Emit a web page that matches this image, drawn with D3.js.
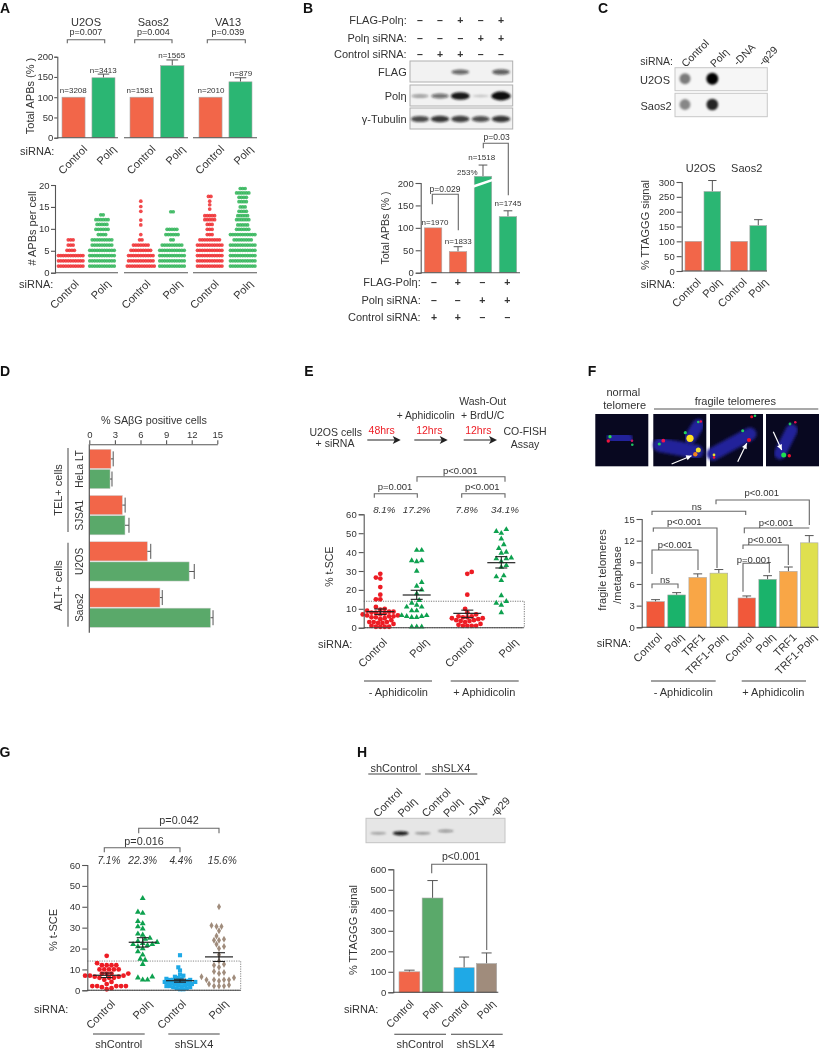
<!DOCTYPE html>
<html>
<head>
<meta charset="utf-8">
<script src="https://cdn.jsdelivr.net/npm/d3@7"></script>
<style>
  html, body { margin: 0; padding: 0; background: #fff; }
  svg { display: block; filter: blur(0.3px); }
  text { font-family: "Liberation Sans", Arimo, Helvetica, sans-serif; fill: #333; }
  .axis path, .axis line { stroke: #555; stroke-width: 1.1; }
  .axis text { font-size: 9.5px; fill: #333; }
</style>
</head>
<body>
<svg id="fig" width="819" height="1050"></svg>
<script>
// colours
const ORANGE = '#f26649', GREEN = '#2bb673', SAGE = '#5aa96a', RED = '#ed1c24', DKGREEN = '#0ea14f';
const BLUE = '#1fa9e6', BROWN = '#a08c7c', FAMBER = '#f9a646', FYELLOW = '#dfe04f', FGREEN = '#1ab36b', FRED = '#f1583a';

const POL = 'Polη';

// A - total APBs
const aCells = ['U2OS', 'Saos2', 'VA13'];
const aPvals = ['p=0.007', 'p=0.004', 'p=0.039'];
const aValues = [[100, 148], [100, 178], [100, 138]];
const aErrors = [[null, 157], [null, 192], [null, 148]];
const aCounts = [['n=3208', 'n=3413'], ['n=1581', 'n=1565'], ['n=2010', 'n=879']];
const aTicks = [0, 50, 100, 150, 200];

// A - APBs per cell, [value, number of cells drawn]
const aDotsU2osCtl = [[1.5, 11], [2.7, 11], [3.9, 11], [5.1, 4], [6.3, 3], [7.5, 3]];
const aDotsU2osPol = [[1.5, 11], [2.7, 11], [3.9, 11], [5.1, 11], [6.3, 9], [7.5, 9], [8.7, 4], [9.9, 6], [11, 5], [12.1, 6], [13.2, 2]];
const aDotsSaosCtl = [[1.5, 12], [2.7, 11], [3.9, 11], [5.1, 9], [6.3, 7], [7.5, 2], [8.7, 1], [10.9, 1], [12, 1], [14, 1], [15.1, 1], [16.3, 1]];
const aDotsSaosPol = [[1.5, 11], [2.7, 11], [3.9, 11], [5.1, 11], [6.3, 9], [7.5, 2], [8.7, 6], [9.9, 5], [13.9, 2]];
const aDotsVaCtl = [[1.5, 11], [2.7, 11], [3.9, 11], [5.1, 11], [6.3, 11], [7.5, 9], [8.7, 3], [9.9, 3], [11, 3], [12.1, 5], [13, 5], [14.5, 1], [15.5, 1], [16.3, 1], [17.4, 2]];
const aDotsVaPol = [[1.5, 11], [2.7, 11], [3.9, 11], [5.1, 11], [6.3, 11], [7.5, 8], [8.7, 11], [9.9, 6], [10.9, 5], [12.1, 6], [13, 5], [14, 4], [15, 3], [16.2, 4], [17.2, 4], [18.2, 6], [19.2, 3]];
const aDotTicks = [0, 5, 10, 15, 20];

// B - blot lane intensities and bars
const bFlagRow = ['–', '–', '+', '–', '+'];
const bPolRow = ['–', '–', '–', '+', '+'];
const bCtlRow = ['–', '+', '+', '–', '–'];
const bBlotFlag = [0, 0, 0.6, 0, 0.65];
const bBlotPol = [0.35, 0.55, 1, 0.12, 1.2];
const bBlotTub = [0.75, 0.85, 0.8, 0.72, 0.85];
const bValues = [100, 47, 253, 125];
const bCounts = ['n=1970', 'n=1833', 'n=1518', 'n=1745'];
const bFlagRow2 = ['–', '+', '–', '+'];
const bPolRow2 = ['–', '–', '+', '+'];
const bCtlRow2 = ['+', '+', '–', '–'];

// C - dot blot and TTAGGG signal
const cLanes = ['Control', POL, '-DNA', '-φ29'];
const cDotU2os = [0.5, 1, 0, 0];
const cDotSaos = [0.45, 0.85, 0, 0];
const cValues = [[100, 268], [100, 153]];
const cErrors = [[null, 305], [null, 173]];
const cTicks = [0, 50, 100, 150, 200, 250, 300];

// D - senescence
const dCells = ['HeLa LT', 'SJSA1', 'U2OS', 'Saos2'];
const dValues = [[2.54, 2.43], [3.87, 4.18], [6.8, 11.7], [8.28, 14.2]];
const dErrors = [[2.8, 2.66], [4.2, 4.65], [7.2, 12.3], [8.55, 14.5]];
const dTicks = [0, 3, 6, 9, 12, 15];

// E - t-SCE
const ePct = ['8.1%', '17.2%', '7.8%', '34.1%'];
const eCtl1 = [28.5, 26.5, 26, 21.5, 17.5, 15, 15, 11, 10, 9.5, 9, 8.5, 8.5, 8, 8, 7.5, 7, 7, 6.5, 6.5, 6, 6, 5.5, 5.5, 5, 4.5, 4, 3, 3, 3, 2.5, 2.5, 2, 1, 0.5, 0.5, 0.5, 0.5];
const ePol1 = [41, 41, 35.5, 35.5, 35, 30, 24, 22, 20, 18, 14.5, 13, 12, 11, 11, 9, 9, 6.5, 6.5, 6, 6, 5.5, 5.5, 0.5, 0.5, 0.5];
const eCtl2 = [29.5, 28.5, 17.5, 10, 8, 7, 6, 6, 5.5, 5.5, 5, 5, 4.5, 4, 4, 3.5, 3.5, 3, 2, 1.5, 1, 1, 1, 1];
const ePol2 = [52, 51, 50, 47, 44, 42, 40, 39.5, 37, 36.5, 36.5, 35, 33, 32, 27.5, 27, 25, 17, 14, 13, 12, 8];
const eMeans = [[8.5, 7, 9.9], [17.3, 15, 19.8], [7.6, 5.3, 9.3], [34.4, 31.6, 37.6]];
const sceTicks = [0, 10, 20, 30, 40, 50, 60];

// F - fragile telomeres
const fCats = ['Control', POL, 'TRF1', 'TRF1-' + POL];
const fValues = [[3.55, 4.48, 6.9, 7.5], [4.06, 6.65, 7.75, 11.7]];
const fErrors = [[3.83, 4.8, 7.4, 8], [4.34, 7.15, 8.35, 12.7]];
const fTicks = [0, 3, 6, 9, 12, 15];

// G - t-SCE with SLX4
const gPct = ['7.1%', '22.3%', '4.4%', '15.6%'];
const gCtl = [16.5, 13, 12, 12, 12, 12, 10, 10, 10, 10, 10, 8, 8, 8, 8, 7, 7, 7, 6.5, 6.5, 6, 6, 6, 5, 4, 3, 2, 2, 2, 2, 2, 1.5, 1, 0.5];
const gPol = [44, 37.5, 37, 33, 32, 30.5, 29.5, 27, 26.5, 25, 24.5, 23.5, 23, 22.5, 22, 22, 21.5, 21, 20, 18.5, 17, 15, 14.5, 12.5, 6.5, 6, 5, 5];
const gSlxCtl = [16.8, 11, 9.5, 7.5, 7, 6.5, 6, 5.5, 5.5, 5, 5, 5, 4.5, 4.5, 4, 4, 4, 4, 3.5, 3.5, 3, 3, 3, 2.5, 2.5, 2, 2, 2, 1.5, 1.5, 1, 1, 0.5, 0.5];
const gSlxPol = [40, 31, 30.5, 30.5, 28.5, 26, 24.5, 24, 24, 22, 21, 20, 17, 14, 12.5, 12, 11, 9, 8.5, 8, 6.5, 6, 5, 5, 5, 5, 4.5, 3, 2.5, 2, 2, 2];
const gMeans = [[7.2, 6.1, 8.3], [23, 20.7, 25.2], [4.6, 3.9, 5.3], [16, 13.8, 18]];

// H - TTAGGG signal with SLX4
const hLanes = ['Control', POL, 'Control', POL, '-DNA', '-φ29'];
const hBlot = [0.3, 0.95, 0.35, 0.4, 0, 0];
const hValues = [[100, 460], [120, 140]];
const hErrors = [[108, 545], [172, 192]];
const hTicks = [0, 100, 200, 300, 400, 500, 600];

const svg = d3.select('#fig');
const defs = svg.append('defs');
[['blur1', 0.9], ['blur2', 1.4]].forEach(([id, s]) => {
  defs.append('filter').attr('id', id).attr('x', '-50%').attr('y', '-80%').attr('width', '200%').attr('height', '260%')
    .append('feGaussianBlur').attr('stdDeviation', s);
});

function txt(x, y, s, size = 11, opt = {}) {
  const t = svg.append('text')
    .attr('x', opt.rot ? 0 : x).attr('y', opt.rot ? 0 : y)
    .attr('dominant-baseline', 'central')
    .attr('text-anchor', opt.anchor || 'middle')
    .style('font-size', size + 'px')
    .text(s);
  if (opt.rot) t.attr('transform', `translate(${x},${y}) rotate(${opt.rot})`);
  if (opt.italic) t.style('font-style', 'italic');
  if (opt.bold) t.style('font-weight', 'bold').style('fill', '#111');
  if (opt.fill) t.style('fill', opt.fill);
  return t;
}

// rotated x label, anchored at its upper right end
function slant(x, y, s, size = 11) { txt(x, y, s, size, { anchor: 'end', rot: -45 }); }
// rotated lane label, anchored at its lower left end
function slantUp(x, y, s, size = 11) { txt(x, y, s, size, { anchor: 'start', rot: -45 }); }

function bracket(x1, x2, y, d1, d2, label, tx, ty, size = 9.5) {
  svg.append('path')
    .attr('d', d3.line()([[x1, y + d1], [x1, y], [x2, y], [x2, y + d2]]))
    .attr('fill', 'none').attr('stroke', '#666').attr('stroke-width', 1.1);
  if (label) txt(tx, ty, label, size);
}

function hline(x1, x2, y, color = '#555', w = 1.1) {
  svg.append('line').attr('x1', x1).attr('x2', x2).attr('y1', y).attr('y2', y).attr('stroke', color).attr('stroke-width', w);
}

function yAxis(x, scale, ticks, tick = 5, pad = 2) {
  return svg.append('g').attr('class', 'axis').attr('transform', `translate(${x},0)`)
    .call(d3.axisLeft(scale).tickValues(ticks).tickSizeOuter(0).tickSize(tick).tickPadding(pad));
}

function bars(xs, y, values, errors, colors) {
  values.forEach((v, i) => {
    const x = xs(i), w = xs.bandwidth(), c = x + w / 2;
    if (errors[i] != null) {
      svg.append('line').attr('x1', c).attr('x2', c).attr('y1', y(v)).attr('y2', y(errors[i])).attr('stroke', '#555');
      svg.append('line').attr('x1', c - w * 0.25).attr('x2', c + w * 0.25).attr('y1', y(errors[i])).attr('y2', y(errors[i])).attr('stroke', '#555');
    }
    svg.append('rect').attr('x', x).attr('y', y(v)).attr('width', w).attr('height', y(0) - y(v))
      .attr('fill', colors[i]).attr('stroke', '#aaa').attr('stroke-width', 0.6);
  });
}

function band(n, a, b, pad) {
  return d3.scaleBand().domain(d3.range(n)).range([a, b]).paddingInner(pad);
}

// place points without overlap, nearest free slot to the column centre
function swarm(values, y, d) {
  const placed = [];
  values.slice().sort((a, b) => a - b).forEach((v, idx) => {
    const py = y(v);
    const sign = idx % 2 ? 1 : -1;
    for (let k = 0; k < 60; k++) {
      const off = (k % 2 ? 1 : -1) * sign * Math.ceil(k / 2) * d * 0.5;
      if (placed.every(p => (p.x - off) ** 2 + (p.y - py) ** 2 >= d * d * 0.9)) {
        placed.push({ x: off, y: py });
        break;
      }
    }
  });
  return placed;
}

function scatter(values, cx, y, type, color, d = 4.4, size = 18) {
  const sym = d3.symbol().type(type).size(size)();
  svg.append('g').selectAll('path').data(swarm(values, y, d)).join('path')
    .attr('d', sym).attr('fill', color)
    .attr('transform', p => `translate(${cx + p.x},${p.y})`);
}

function meanBar(cx, y, m, halfW = 14, capW = 6) {
  const [mean, lo, hi] = m;
  hline(cx - halfW, cx + halfW, y(mean), '#222', 1.2);
  svg.append('line').attr('x1', cx).attr('x2', cx).attr('y1', y(lo)).attr('y2', y(hi)).attr('stroke', '#222').attr('stroke-width', 1.1);
  hline(cx - capW, cx + capW, y(lo), '#222', 1.1);
  hline(cx - capW, cx + capW, y(hi), '#222', 1.1);
}

function signRow(xs, y, row) {
  row.forEach((s, i) => txt(xs[i], y, s, 10.5, {}).style('font-weight', 'bold'));
}

// panel letters
[['A', 5, 8], ['B', 308, 8], ['C', 603, 8], ['D', 5, 371], ['E', 309, 371], ['F', 592, 371], ['G', 5, 752], ['H', 362, 752]]
  .forEach(([s, x, y]) => txt(x, y, s, 14, { bold: true }));

// ---------- A ----------
const aY = d3.scaleLinear().domain([0, 200]).range([137.7, 56.7]);
const aRanges = [[62, 115], [130, 184], [199, 252]];
const aLines = [[57.3, 118], [124, 188], [193, 257]];
const aTitleX = [86, 153.3, 228];
const aBr = [[67.3, 104.7], [134.7, 172], [207.3, 245.3]];
const aNpos = [[73.3, 90.7, 103.3, 70], [140, 90.7, 171.7, 55], [211, 90.7, 241, 73]];
yAxis(aLines[0][0], aY, aTicks, 3, 1);
aCells.forEach((c, i) => {
  txt(aTitleX[i], 21.7, c, 11);
  bracket(aBr[i][0], aBr[i][1], 39.7, 3.6, 3.6, aPvals[i], aTitleX[i], 31.7, 9);
  const xs = band(2, aRanges[i][0], aRanges[i][1], 0.23);
  bars(xs, aY, aValues[i], aErrors[i], [ORANGE, GREEN]);
  hline(aLines[i][0], aLines[i][1], aY(0));
  txt(aNpos[i][0], aNpos[i][1], aCounts[i][0], 8);
  txt(aNpos[i][2], aNpos[i][3], aCounts[i][1], 8);
  slant(xs(0) + xs.bandwidth(), 147, 'Control');
  slant(xs(1) + xs.bandwidth() - 1, 147, POL);
});
txt(30, 96, 'Total APBs (%  )', 11, { rot: -90 });
txt(54.3, 150.7, 'siRNA:', 11, { anchor: 'end' });

const aDotY = d3.scaleLinear().domain([0, 20]).range([272.7, 185]);
yAxis(55, aDotY, aDotTicks, 4, 1.5);
const aDotSets = [aDotsU2osCtl, aDotsU2osPol, aDotsSaosCtl, aDotsSaosPol, aDotsVaCtl, aDotsVaPol];
const aDotX = [70.7, 102, 140.8, 172, 209.7, 242.7];
aDotSets.forEach((set, i) => {
  const color = i % 2 ? '#2fb457' : '#ee2a2e';
  const flat = set.flatMap(([v, n]) => d3.range(n).map(k => ({ v, off: (k - (n - 1) / 2) * 2.45 })));
  svg.append('g').selectAll('circle').data(flat).join('circle')
    .attr('cx', d => aDotX[i] + d.off).attr('cy', d => aDotY(d.v)).attr('r', 1.85)
    .attr('fill', color).attr('fill-opacity', 0.85);
});
[[55, 118], aLines[1], aLines[2]].forEach(l => hline(l[0], l[1], aDotY(0)));
[76.7, 108.3, 148.3, 180, 216.7, 250.7].forEach((x, i) => slant(x, 281.7, i % 2 ? POL : 'Control'));
txt(31.7, 228.3, '# APBs per cell', 11, { rot: -90 });
txt(53.3, 284.3, 'siRNA:', 11, { anchor: 'end' });

// ---------- B ----------
const bLaneX = [420, 440, 460.3, 480.7, 501];
txt(406.7, 20.3, 'FLAG-' + POL + ':', 11, { anchor: 'end' });
txt(406.7, 37.7, POL + ' siRNA:', 11, { anchor: 'end' });
txt(406.7, 54.3, 'Control siRNA:', 11, { anchor: 'end' });
signRow(bLaneX, 20.3, bFlagRow);
signRow(bLaneX, 37.7, bPolRow);
signRow(bLaneX, 54.3, bCtlRow);
function westernStrip(y0, y1, lanes, name) {
  svg.append('rect').attr('x', 410).attr('y', y0).attr('width', 102.7).attr('height', y1 - y0)
    .attr('fill', '#f2f2f2').attr('stroke', '#b0b0b0').attr('stroke-width', 1);
  lanes.forEach((v, i) => {
    if (!v) return;
    svg.append('ellipse').attr('cx', bLaneX[i]).attr('cy', (y0 + y1) / 2 + 0.5)
      .attr('rx', 8 + v * 1.5).attr('ry', 0.8 + v * 3)
      .attr('fill', '#111').attr('fill-opacity', Math.min(1, 0.1 + v * 0.85))
      .attr('filter', 'url(#blur1)');
  });
  txt(406.7, (y0 + y1) / 2, name, 11, { anchor: 'end' });
}
westernStrip(61, 82, bBlotFlag, 'FLAG');
westernStrip(85, 106, bBlotPol, POL);
westernStrip(108, 129, bBlotTub, 'γ-Tubulin');

const bY = d3.scaleLinear().domain([0, 200]).range([272.7, 183]);
const bShown = bValues.map(v => Math.min(v, 215));  // third bar is cut, axis break
const bErrShown = [null, 58, 240, 138];
const bX = band(4, 424.3, 516.7, 0.3);
yAxis(420.7, bY, aTicks);
bars(bX, bY, bShown, bErrShown, [ORANGE, ORANGE, GREEN, GREEN]);
hline(420.7, 520, bY(0));
svg.append('line').attr('x1', bX(2) - 1).attr('x2', bX(2) + bX.bandwidth() + 1)
  .attr('y1', bY(192)).attr('y2', bY(207)).attr('stroke', '#fff').attr('stroke-width', 2.6);
[[435, 222.3], [458.3, 241], [481.7, 157.3], [508, 203.7]].forEach((p, i) => txt(p[0], p[1], bCounts[i], 8));
txt(467.3, 172.7, '253%', 8);
bracket(432.3, 458.3, 194.3, 10, 36, 'p=0.029', 445, 188.7, 8.5);
bracket(483.3, 508.3, 143.3, 5, 52, 'p=0.03', 496.7, 136.7, 8.5);
txt(385, 228, 'Total APBs (%  )', 10.5, { rot: -90 });
const bLaneX2 = [434, 457.7, 482.3, 507.3];
txt(420.7, 282.3, 'FLAG-' + POL + ':', 11, { anchor: 'end' });
txt(420.7, 299.7, POL + ' siRNA:', 11, { anchor: 'end' });
txt(420.7, 316.7, 'Control siRNA:', 11, { anchor: 'end' });
signRow(bLaneX2, 282.3, bFlagRow2);
signRow(bLaneX2, 299.7, bPolRow2);
signRow(bLaneX2, 316.7, bCtlRow2);

// ---------- C ----------
txt(673, 61, 'siRNA:', 10.5, { anchor: 'end' });
[[683, 65], [711.7, 65], [735, 63.3], [760, 63.3]].forEach((p, i) => slantUp(p[0], p[1], cLanes[i], 10.5));
const cLaneX = [685, 712.3];
function dotStrip(y0, y1, lanes, name, lx) {
  svg.append('rect').attr('x', 675).attr('y', y0).attr('width', 92.3).attr('height', y1 - y0)
    .attr('fill', '#f6f6f6').attr('stroke', '#c8c8c8');
  cLaneX.forEach((x, i) => {
    svg.append('circle').attr('cx', x).attr('cy', (y0 + y1) / 2 - 0.5).attr('r', 5 + lanes[i])
      .attr('fill', '#000').attr('fill-opacity', lanes[i]).attr('filter', 'url(#blur1)');
  });
  txt(lx, (y0 + y1) / 2 + 1, name, 11, { anchor: 'end' });
}
dotStrip(67.7, 90.7, cDotU2os, 'U2OS', 670);
dotStrip(93.3, 116.7, cDotSaos, 'Saos2', 671.7);
const cY = d3.scaleLinear().domain([0, 300]).range([271, 182]);
yAxis(681.7, cY, cTicks);
[[685, 720.7], [730.7, 766.7]].forEach((r, i) => {
  const xs = band(2, r[0], r[1], 0.12);
  bars(xs, cY, cValues[i], cErrors[i], [ORANGE, GREEN]);
  slant(xs(0) + xs.bandwidth() - 3, 280, 'Control');
  slant(xs(1) + xs.bandwidth() - 1, 280, POL);
});
hline(681.7, 767, cY(0));
txt(700.7, 167.7, 'U2OS', 11);
txt(746.7, 167.7, 'Saos2', 11);
txt(645, 225, '% TTAGGG signal', 11, { rot: -90 });
txt(675, 284.3, 'siRNA:', 11, { anchor: 'end' });

// ---------- D ----------
txt(154, 420, '% SAβG positive cells', 10.8);
const dX = d3.scaleLinear().domain([0, 15]).range([89.3, 217.3]);
svg.append('g').attr('class', 'axis').attr('transform', 'translate(0,444.3)')
  .call(d3.axisTop(dX).tickValues(dTicks).tickSize(4).tickSizeOuter(0).tickPadding(2));
const dGroups = d3.scaleBand().domain(dCells).range([449.3, 627.3]).paddingInner(0.15);
dCells.forEach((c, i) => {
  const inner = d3.scaleBand().domain([0, 1]).range([dGroups(c), dGroups(c) + dGroups.bandwidth()]).paddingInner(0.05);
  dValues[i].forEach((v, j) => {
    svg.append('rect').attr('x', dX(0)).attr('y', inner(j)).attr('width', dX(v) - dX(0)).attr('height', inner.bandwidth())
      .attr('fill', j ? SAGE : ORANGE).attr('stroke', '#ccc').attr('stroke-width', 0.5);
    const cy = inner(j) + inner.bandwidth() / 2;
    svg.append('line').attr('x1', dX(v)).attr('x2', dX(dErrors[i][j])).attr('y1', cy).attr('y2', cy).attr('stroke', '#555');
    svg.append('line').attr('x1', dX(dErrors[i][j])).attr('x2', dX(dErrors[i][j])).attr('y1', cy - 7.5).attr('y2', cy + 7.5).attr('stroke', '#555');
  });
  txt(79, dGroups(c) + dGroups.bandwidth() / 2, c, 10, { rot: -90 });
});
svg.append('line').attr('x1', 89.3).attr('x2', 89.3).attr('y1', 444.3).attr('y2', 632.7).attr('stroke', '#555').attr('stroke-width', 1.2);
[[448, 532], [542.7, 626.7]].forEach(r => svg.append('line').attr('x1', 68).attr('x2', 68).attr('y1', r[0]).attr('y2', r[1]).attr('stroke', '#666').attr('stroke-width', 1.2));
txt(58.3, 490, 'TEL+ cells', 11, { rot: -90 });
txt(58.3, 585.7, 'ALT+ cells', 11, { rot: -90 });

// ---------- E ----------
txt(335.7, 432.3, 'U2OS cells', 10.5);
txt(335, 442.7, '+ siRNA', 10.5);
[[381.7, 367.3, 400.7, '48hrs'], [429.3, 414.3, 447.7, '12hrs'], [478.3, 463.7, 497, '12hrs']].forEach(a => {
  txt(a[0], 430, a[3], 10.5, { fill: '#ed1c24' });
  hline(a[1], a[2] - 4, 440, '#222', 1);
  svg.append('path').attr('d', d3.line()([[a[2] - 8, 436], [a[2], 440], [a[2] - 8, 444], [a[2] - 6, 440]])).attr('fill', '#222');
});
txt(425.7, 415, '+ Aphidicolin', 10.3);
txt(482.7, 401, 'Wash-Out', 10.5);
txt(482.7, 415, '+ BrdU/C', 10.5);
txt(525, 431, 'CO-FISH', 10.5);
txt(525, 444.3, 'Assay', 10.5);
bracket(374.3, 417.3, 493.7, 4, 4, 'p=0.001', 395, 486.7);
bracket(461.7, 505, 493.7, 4, 4, 'p<0.001', 482.3, 486.7);
bracket(417, 505, 476.7, 5, 5, 'p<0.001', 460.3, 470.7);

const eY = d3.scaleLinear().domain([0, 60]).range([627.7, 514.3]);
const eCols = [380.3, 416.7, 467.3, 501.3];
svg.append('path').attr('d', d3.line()([[363.7, eY(14)], [524.3, eY(14)], [524.3, eY(0)], [363.7, eY(0)]]))
  .attr('fill', 'none').attr('stroke', '#555').attr('stroke-width', 0.8).attr('stroke-dasharray', '1.2 1.2');
ePct.forEach((p, i) => txt([384.3, 416.7, 466.7, 505][i], 509, p, 9.8, { italic: true }));
scatter(eCtl1, eCols[0], eY, d3.symbolCircle, RED);
scatter(ePol1, eCols[1], eY, d3.symbolTriangle, DKGREEN, 5, 14);
scatter(eCtl2, eCols[2], eY, d3.symbolCircle, RED);
scatter(ePol2, eCols[3], eY, d3.symbolTriangle, DKGREEN, 5, 14);
eMeans.forEach((m, i) => meanBar(eCols[i], eY, m));
yAxis(363.7, eY, sceTicks);
hline(363.7, 523.3, eY(0), '#444', 1.1);
txt(329, 566.7, '% t-SCE', 10.5, { rot: -90 });
txt(352.3, 644, 'siRNA:', 11, { anchor: 'end' });
[385, 426.7, 471.7, 516].forEach((x, i) => slant(x, 640, i % 2 ? POL : 'Control'));
hline(364, 432, 681, '#444');
hline(450.7, 518.7, 681, '#444');
txt(398.3, 692, '- Aphidicolin', 11);
txt(484.3, 692, '+ Aphidicolin', 11);

// ---------- F ----------
txt(623.3, 392, 'normal', 11);
txt(624.7, 405.3, 'telomere', 11);
txt(735.3, 401, 'fragile telomeres', 11);
hline(654, 818.3, 409, '#555');
const fFrames = [
  { x: 595.3, w: 53, chrom: [[18, 23, 31, 25, 13]], foci: [[14.7, 22.7, '#2be04a', 1.6], [13, 27, '#f0143c', 1.7], [36.7, 26.7, '#d01060', 1.3], [37, 30.7, '#20c060', 1.3]] },
  { x: 653.3, w: 53, chrom: [[6.7, 31, 43, 37.7, 14], [36.7, 24, 45, 11, 12]], foci: [[10, 26.7, '#f0144c', 1.9], [6, 30, '#20d060', 1.6], [36.7, 24.3, '#ffe020', 3.6], [32, 18.7, '#20d060', 1.6], [45, 36, '#f0e030', 2.5], [42, 40.3, '#f08020', 2.2], [45, 8, '#20d060', 1.3], [47.5, 7.5, '#f0144c', 1.3]], arrow: [18.3, 50, 38.3, 41.7] },
  { x: 710, w: 53, chrom: [[3, 40, 40, 20, 13]], foci: [[39, 26, '#f01030', 2.1], [32.7, 16.7, '#20d060', 1.5], [41.7, 2.7, '#f01030', 1.5], [45, 1.7, '#20d060', 1.3], [4, 41, '#e8e030', 1.4], [4, 43.5, '#f01030', 1.3]], arrow: [27.7, 47.7, 36.7, 29.3] },
  { x: 766, w: 53, chrom: [[14, 39.3, 25.7, 16, 12]], foci: [[17.7, 41, '#20e050', 2.5], [23.3, 41.7, '#f01030', 1.7], [24, 10, '#20c060', 1.4], [29.3, 8.3, '#e01050', 1.3]], arrow: [7.3, 17.7, 15.7, 36] }
];
fFrames.forEach(fr => {
  const g = svg.append('g').attr('transform', `translate(${fr.x},414)`);
  g.append('rect').attr('width', fr.w).attr('height', 52.3).attr('fill', '#080820');
  fr.chrom.forEach(c => g.append('line').attr('x1', c[0]).attr('y1', c[1]).attr('x2', c[2]).attr('y2', c[3])
    .attr('stroke', '#20209a').attr('stroke-width', c[4]).attr('stroke-linecap', 'round').attr('filter', 'url(#blur2)'));
  fr.foci.forEach(f => g.append('circle').attr('cx', f[0]).attr('cy', f[1]).attr('r', f[3]).attr('fill', f[2]).attr('style', 'filter:blur(.5px)'));
  if (fr.arrow) {
    const [x1, y1, x2, y2] = fr.arrow, a = Math.atan2(y2 - y1, x2 - x1);
    g.append('line').attr('x1', x1).attr('y1', y1).attr('x2', x2).attr('y2', y2).attr('stroke', '#fff').attr('stroke-width', 1.2);
    g.append('path').attr('fill', '#fff').attr('d', d3.line()([[x2, y2],
      [x2 - 6 * Math.cos(a - 0.45), y2 - 6 * Math.sin(a - 0.45)],
      [x2 - 6 * Math.cos(a + 0.45), y2 - 6 * Math.sin(a + 0.45)]]));
  }
});

const fY = d3.scaleLinear().domain([0, 15]).range([627.3, 519]);
yAxis(641.7, fY, fTicks);
const fColors = [FRED, FGREEN, FAMBER, FYELLOW];
[[646.7, 727.7, 660, 681.7, 703, 725], [738, 818, 751.7, 773, 794.5, 814.5]].forEach((r, i) => {
  bars(band(4, r[0], r[1], 0.16), fY, fValues[i], fErrors[i], fColors);
  fCats.forEach((c, j) => slant(r[2 + j], 635, c));
});
hline(641.7, 819, fY(0), '#444', 1.1);
bracket(652, 678, 584, 4.3, 4.3, 'ns', 665, 579);
bracket(652, 698, 550, 24, 20, 'p<0.001', 675, 544);
bracket(653.3, 717, 528, 3.7, 40, 'p<0.001', 684.3, 521.7);
bracket(652, 745.7, 511.3, 3.7, 3.7, 'ns', 696.7, 506);
bracket(716, 809.3, 500, 4.3, 25, 'p<0.001', 761.7, 492.7);
bracket(744.3, 809.3, 528, 5.3, 0, 'p<0.001', 776, 522);
bracket(743, 788.3, 545, 4, 20, 'p<0.001', 765, 539);
bracket(743, 769.3, 563.3, 28.4, 9.4, 'p=0.001', 754, 559);
txt(602.3, 570, 'fragile telomeres', 11, { rot: -90 });
txt(616.7, 575, '/metaphase', 11, { rot: -90 });
txt(631, 642.7, 'siRNA:', 11, { anchor: 'end' });
hline(651, 715.7, 681, '#444');
hline(741.7, 806, 681, '#444');
txt(683.3, 692, '- Aphidicolin', 11);
txt(773.3, 692, '+ Aphidicolin', 11);

// ---------- G ----------
bracket(138.7, 219, 828.3, 5, 5, 'p=0.042', 179, 820.3, 10.8);
bracket(104.3, 180, 847.7, 4.6, 4.6, 'p=0.016', 144, 840.7, 10.8);
gPct.forEach((p, i) => txt([109, 142.7, 181, 222.3][i], 860, p, 10.2, { italic: true }));
const gY = d3.scaleLinear().domain([0, 60]).range([990.3, 865]);
const gCols = [106.7, 142.7, 180, 219];
svg.append('path').attr('d', d3.line()([[87.3, gY(14)], [240.7, gY(14)], [240.7, gY(0)], [87.3, gY(0)]]))
  .attr('fill', 'none').attr('stroke', '#555').attr('stroke-width', 0.7).attr('stroke-dasharray', '1.2 1.2');
scatter(gCtl, gCols[0], gY, d3.symbolCircle, RED, 4.8);
scatter(gPol, gCols[1], gY, d3.symbolTriangle, DKGREEN, 4.8, 15);
scatter(gSlxCtl, gCols[2], gY, d3.symbolSquare, BLUE, 3.4, 17);
scatter(gSlxPol, gCols[3], gY, d3.symbolDiamond, BROWN, 5, 14);
gMeans.forEach((m, i) => meanBar(gCols[i], gY, m));
yAxis(87.3, gY, sceTicks);
hline(87.3, 240.7, gY(0), '#444', 1.1);
txt(53.3, 930, '% t-SCE', 11, { rot: -90 });
txt(68.3, 1009.3, 'siRNA:', 11, { anchor: 'end' });
[113, 150, 184, 226].forEach((x, i) => slant(x, 1001.7, i % 2 ? POL : 'Control'));
hline(93, 144.7, 1034, '#444');
hline(168.3, 219.7, 1034, '#444');
txt(118.7, 1043.5, 'shControl', 11);
txt(194, 1043.5, 'shSLX4', 11);

// ---------- H ----------
txt(394, 767.7, 'shControl', 11);
txt(451, 767.7, 'shSLX4', 11);
hline(368.3, 420.7, 774, '#444');
hline(425, 477.3, 774, '#444');
[375, 399.3, 423.3, 445, 468.3, 491.7].forEach((x, i) => slantUp(x, 815, hLanes[i], 11));
svg.append('rect').attr('x', 366).attr('y', 818.3).attr('width', 139).attr('height', 24.4)
  .attr('fill', '#e6e6e6').attr('stroke', '#c4c4c4');
[378.3, 400.7, 422.7, 445.7].forEach((x, i) => {
  svg.append('ellipse').attr('cx', x).attr('cy', i === 3 ? 831 : 833.3).attr('rx', 8).attr('ry', 1 + hBlot[i] * 1.2)
    .attr('fill', '#111').attr('fill-opacity', hBlot[i]).attr('filter', 'url(#blur1)');
});
const hY = d3.scaleLinear().domain([0, 600]).range([992.3, 869.3]);
yAxis(393.3, hY, hTicks);
const hColors = [[ORANGE, SAGE], [BLUE, BROWN]];
[[399, 443], [454, 496.7]].forEach((r, i) => bars(band(2, r[0], r[1], 0.1), hY, hValues[i], hErrors[i], hColors[i]));
hline(393.3, 498.3, hY(0), '#444', 1.1);
bracket(431.7, 486.7, 864.3, 9, 85.7, 'p<0.001', 461, 855.7, 10.5);
txt(352.7, 930, '% TTAGGG signal', 11, { rot: -90 });
txt(378.3, 1008.7, 'siRNA:', 11, { anchor: 'end' });
[411.7, 439, 466.7, 493.3].forEach((x, i) => slant(x, 1001.7, i % 2 ? POL : 'Control', 10.5));
hline(394.3, 446, 1034.3, '#444');
hline(451, 502.7, 1034.3, '#444');
txt(420, 1043.5, 'shControl', 11);
txt(475.7, 1043.5, 'shSLX4', 11);
</script>
</body>
</html>
